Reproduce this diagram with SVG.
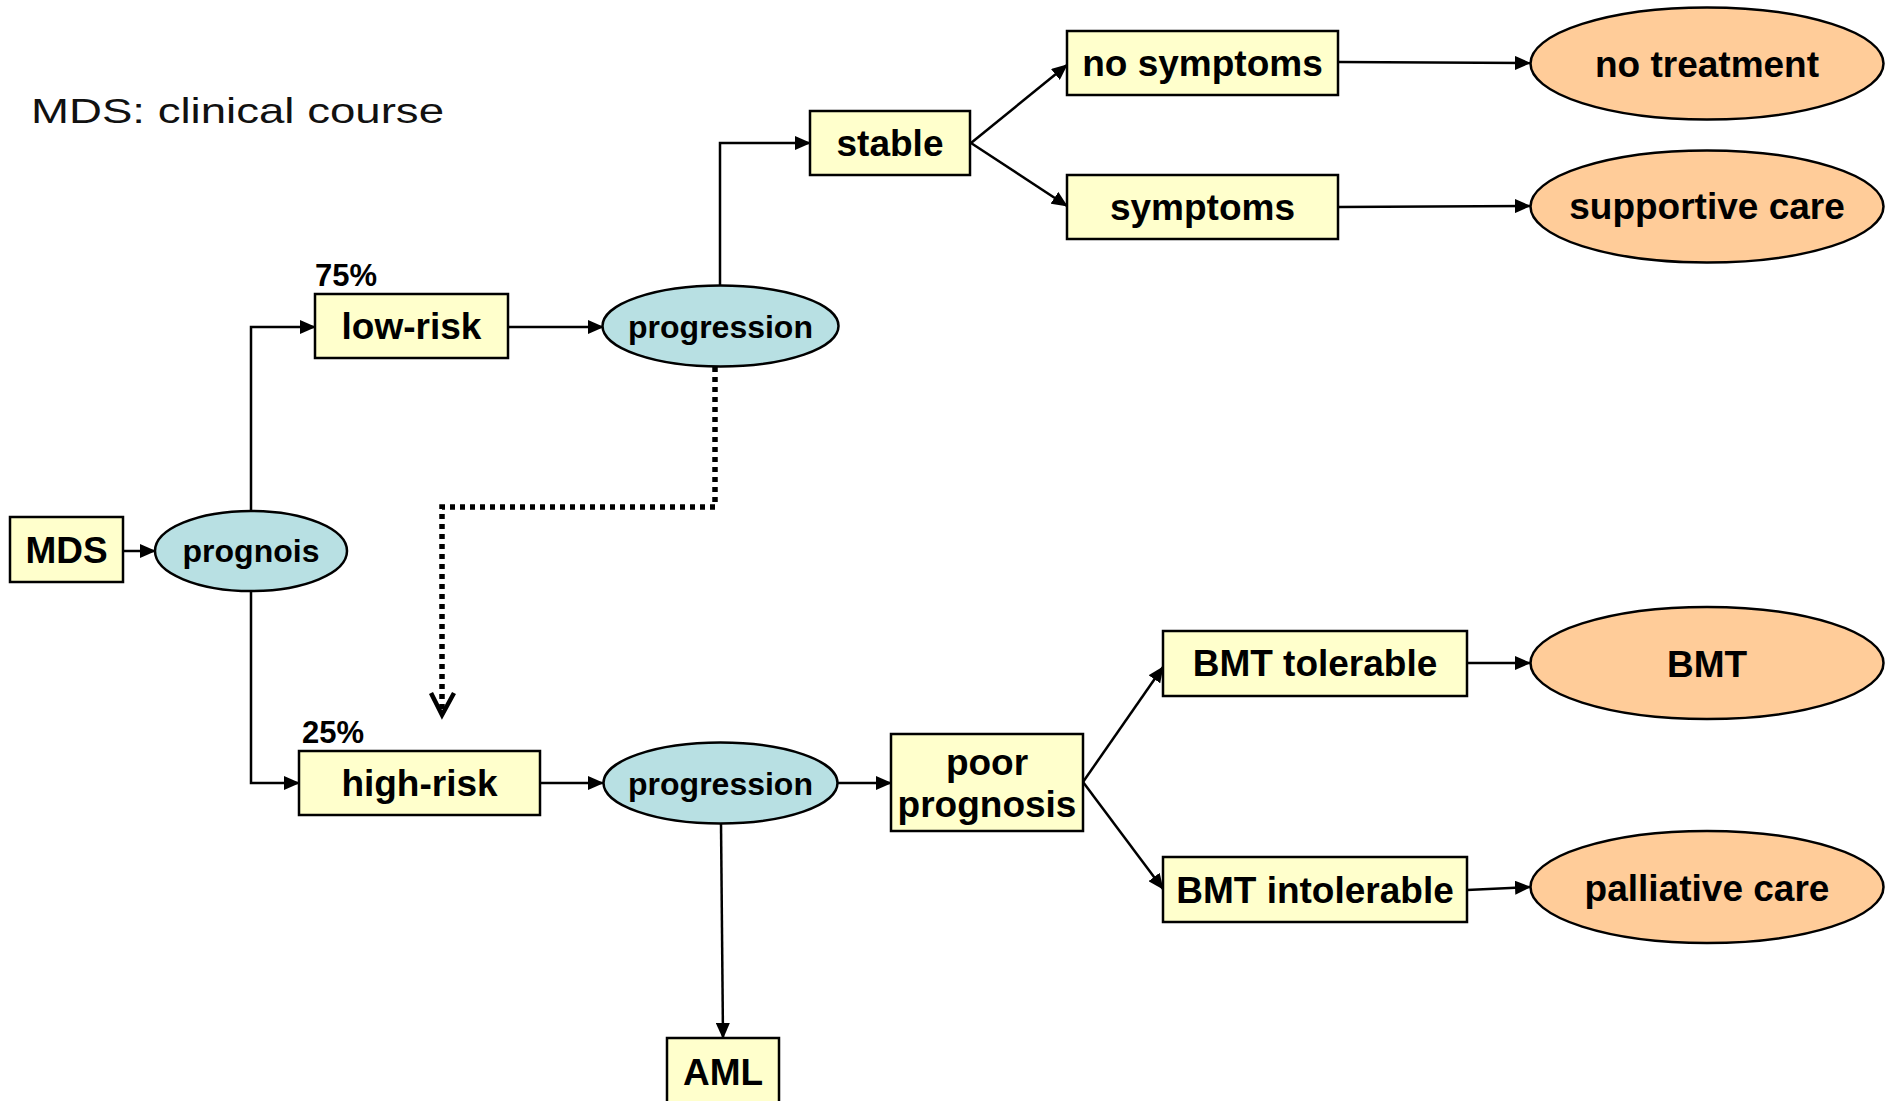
<svg xmlns="http://www.w3.org/2000/svg" width="1894" height="1101" viewBox="0 0 1894 1101">
<style>
.box{fill:#FFFFCC;stroke:#000;stroke-width:2.5}
.blue{fill:#B8E0E3;stroke:#000;stroke-width:2.5}
.orange{fill:#FFCC99;stroke:#000;stroke-width:2.5}
.t{font-family:"Liberation Sans",Arial,sans-serif;font-weight:bold;font-size:37px;fill:#000;text-anchor:middle}
.te{font-family:"Liberation Sans",Arial,sans-serif;font-weight:bold;font-size:32px;fill:#000;text-anchor:middle}
.pct{font-family:"Liberation Sans",Arial,sans-serif;font-weight:bold;font-size:31px;fill:#000}
.title{font-family:"Liberation Sans",Arial,sans-serif;font-size:35px;fill:#111}
.c{fill:none;stroke:#000;stroke-width:2.5}
.dot{fill:none;stroke:#000;stroke-width:5.5;stroke-dasharray:5 5}
</style>
<defs>
<marker id="ah" markerUnits="userSpaceOnUse" markerWidth="16" markerHeight="14" refX="15" refY="7" orient="auto">
<path d="M0,0 L16,7 L0,14 Z" fill="#000"/>
</marker>
</defs>
<rect width="1894" height="1101" fill="#fff"/>
<text class="title" x="31" y="123" textLength="413" lengthAdjust="spacingAndGlyphs">MDS: clinical course</text>

<g id="connectors">
<line class="c" x1="123" y1="551" x2="155" y2="551" marker-end="url(#ah)"/>
<polyline class="c" points="251,511 251,327 315,327" marker-end="url(#ah)"/>
<polyline class="c" points="251,591 251,783 299,783" marker-end="url(#ah)"/>
<line class="c" x1="508" y1="327" x2="603" y2="327" marker-end="url(#ah)"/>
<polyline class="c" points="720,285 720,143 810,143" marker-end="url(#ah)"/>
<line class="c" x1="971" y1="143" x2="1067" y2="65" marker-end="url(#ah)"/>
<line class="c" x1="971" y1="143" x2="1067" y2="206" marker-end="url(#ah)"/>
<line class="c" x1="1338" y1="62" x2="1530" y2="63" marker-end="url(#ah)"/>
<line class="c" x1="1338" y1="207" x2="1530" y2="206" marker-end="url(#ah)"/>
<polyline class="dot" points="715,367 715,507 442,507 442,714"/>
<polyline fill="none" stroke="#000" stroke-width="4.5" points="431,693 442,715 454,693"/>
<line class="c" x1="540" y1="783" x2="603" y2="783" marker-end="url(#ah)"/>
<line class="c" x1="837" y1="783" x2="891" y2="783" marker-end="url(#ah)"/>
<line class="c" x1="721" y1="823" x2="723" y2="1038" marker-end="url(#ah)"/>
<line class="c" x1="1083" y1="782" x2="1163" y2="667" marker-end="url(#ah)"/>
<line class="c" x1="1083" y1="782" x2="1163" y2="889" marker-end="url(#ah)"/>
<line class="c" x1="1467" y1="663" x2="1530" y2="663" marker-end="url(#ah)"/>
<line class="c" x1="1467" y1="890" x2="1530" y2="887" marker-end="url(#ah)"/>
</g>

<g id="MDS"><rect class="box" x="10" y="517" width="113" height="65"/><text class="t" x="66.5" y="563">MDS</text></g>
<g id="prognois"><ellipse class="blue" cx="251" cy="551" rx="96" ry="40"/><text class="te" x="251" y="562">prognois</text></g>
<g id="pct75"><text class="pct" x="315" y="286">75%</text></g>
<g id="low-risk"><rect class="box" x="315" y="294" width="193" height="64"/><text class="t" x="411.5" y="339">low-risk</text></g>
<g id="progression1"><ellipse class="blue" cx="720.5" cy="326" rx="118" ry="40.5"/><text class="te" x="720.5" y="338">progression</text></g>
<g id="stable"><rect class="box" x="810" y="111" width="160" height="64"/><text class="t" x="890" y="156">stable</text></g>
<g id="no-symptoms"><rect class="box" x="1067" y="31" width="271" height="64"/><text class="t" x="1202.5" y="76">no symptoms</text></g>
<g id="symptoms"><rect class="box" x="1067" y="175" width="271" height="64"/><text class="t" x="1202.5" y="220">symptoms</text></g>
<g id="no-treatment"><ellipse class="orange" cx="1707" cy="63.5" rx="176.5" ry="56"/><text class="t" x="1707" y="77">no treatment</text></g>
<g id="supportive-care"><ellipse class="orange" cx="1707" cy="206.5" rx="176.5" ry="56"/><text class="t" x="1707" y="219">supportive care</text></g>
<g id="pct25"><text class="pct" x="302" y="743">25%</text></g>
<g id="high-risk"><rect class="box" x="299" y="751" width="241" height="64"/><text class="t" x="419.5" y="796">high-risk</text></g>
<g id="progression2"><ellipse class="blue" cx="720.5" cy="783" rx="117" ry="40.5"/><text class="te" x="720.5" y="795">progression</text></g>
<g id="poor-prognosis"><rect class="box" x="891" y="734" width="192" height="97"/><text class="t" x="987" y="775">poor</text><text class="t" x="987" y="817">prognosis</text></g>
<g id="AML"><rect class="box" x="667" y="1038" width="112" height="75"/><text class="t" x="723" y="1085">AML</text></g>
<g id="BMT-tolerable"><rect class="box" x="1163" y="631" width="304" height="65"/><text class="t" x="1315" y="676">BMT tolerable</text></g>
<g id="BMT-intolerable"><rect class="box" x="1163" y="857" width="304" height="65"/><text class="t" x="1315" y="903">BMT intolerable</text></g>
<g id="BMT"><ellipse class="orange" cx="1707" cy="663" rx="176.5" ry="56"/><text class="t" x="1707" y="677">BMT</text></g>
<g id="palliative-care"><ellipse class="orange" cx="1707" cy="887" rx="176.5" ry="56"/><text class="t" x="1707" y="901">palliative care</text></g>
</svg>
